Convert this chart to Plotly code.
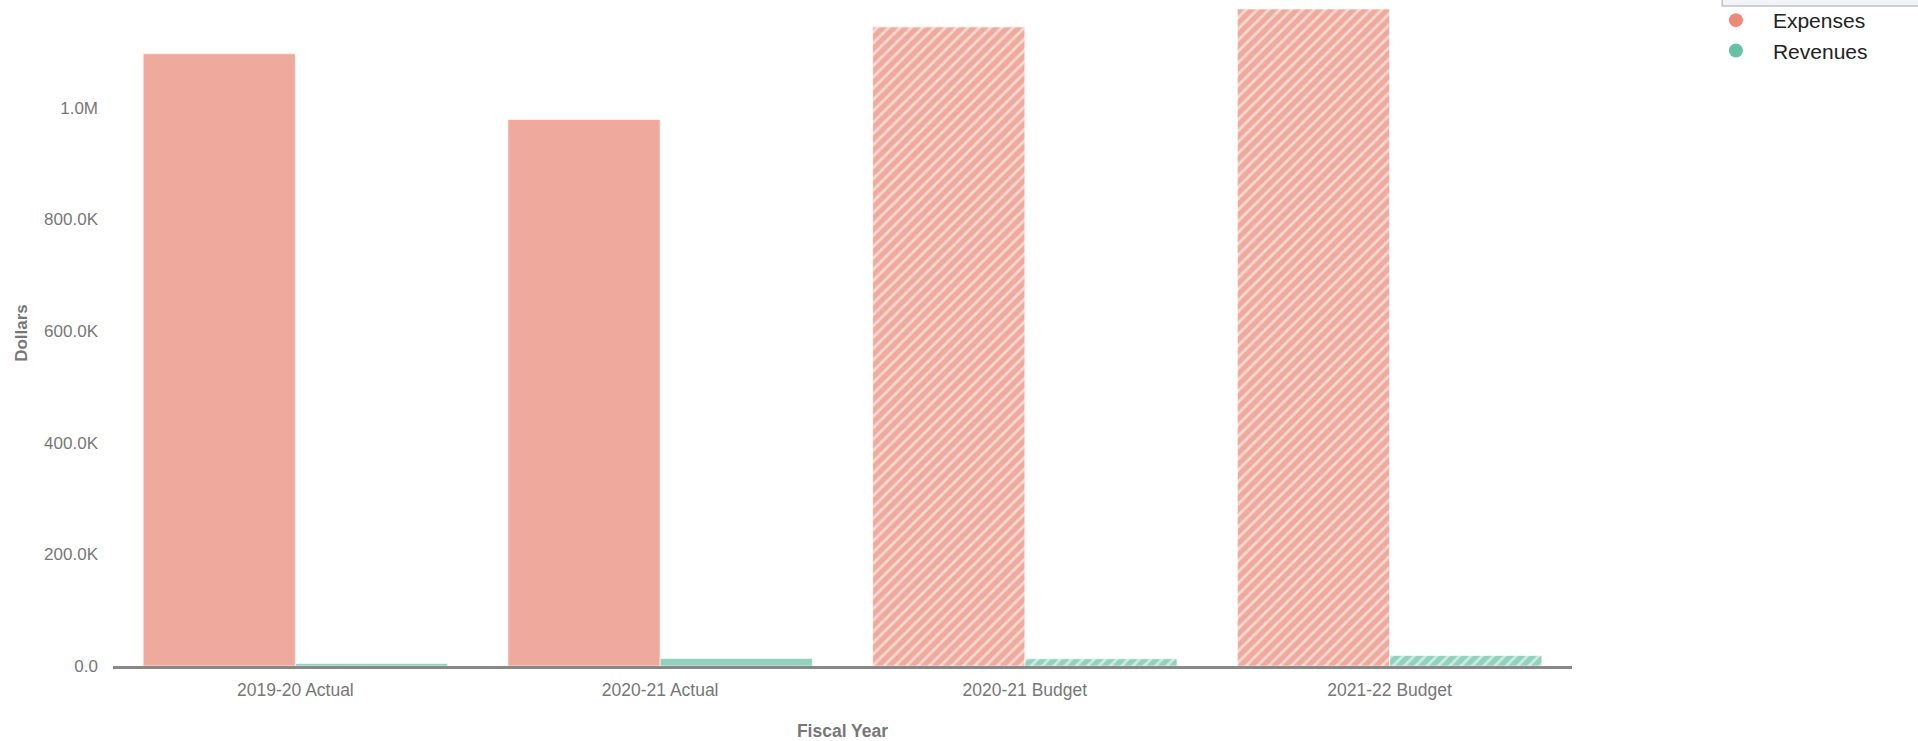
import plotly.graph_objects as go

categories = ["2019-20 Actual", "2020-21 Actual", "2020-21 Budget", "2021-22 Budget"]
expenses = [1097000, 979000, 1145000, 1177000]
revenues = [4500, 13500, 13000, 19000]
patterns = ["", "", "/", "/"]
ytick_vals = [0, 200000, 400000, 600000, 800000, 1000000]
ytick_text = ["0.0", "200.0K", "400.0K", "600.0K", "800.0K", "1.0M"]

EXP = "#EB8A78"
REV = "#66C2A5"
GRAY = "#777777"
FONT = "Liberation Sans, Arial, Helvetica, sans-serif"

fig = go.Figure()
for name, vals, col in [("Expenses", expenses, EXP), ("Revenues", revenues, REV)]:
    fig.add_trace(go.Bar(
        x=categories, y=vals, name=name, showlegend=False, opacity=0.72,
        marker=dict(color=col, line=dict(color="rgba(255,255,255,0.6)", width=1.2),
                    pattern=dict(shape=patterns, fgcolor="white", fgopacity=0.55,
                                 size=8, solidity=0.35)),
        hoverinfo="x+y+name",
    ))
for i, (name, col) in enumerate([("Expenses", EXP), ("Revenues", REV)]):
    fig.add_trace(go.Scatter(
        x=[None], y=[None], mode="markers", name=name, legendgroup=f"g{i}",
        marker=dict(color=col, size=14, symbol="circle"),
    ))

fig.update_layout(
    width=1918, height=741,
    margin=dict(l=113, r=346, t=0, b=75, autoexpand=False),
    paper_bgcolor="white", plot_bgcolor="white",
    font=dict(family=FONT, color=GRAY, size=17),
    barmode="group", bargap=0.165, bargroupgap=0,
    legend=dict(x=1.087, y=1.0, xanchor="left", yanchor="top",
                font=dict(size=21, color="#222222", family=FONT),
                bgcolor="rgba(0,0,0,0)", itemwidth=64, tracegroupgap=0),
    xaxis=dict(showline=True, linecolor="#888888", linewidth=2.5, showgrid=False,
               ticks="", ticklabelstandoff=6, tickfont=dict(size=17.5, color=GRAY),
               title=dict(text="<b>Fiscal Year</b>", standoff=28,
                          font=dict(size=17.5, color=GRAY))),
    yaxis=dict(range=[0, 1193000], showline=False, showgrid=False, zeroline=False,
               tickvals=ytick_vals, ticktext=ytick_text, ticks="",
               ticklabelstandoff=14, tickfont=dict(size=17, color=GRAY),
               title=dict(text="<b>Dollars</b>", standoff=12,
                          font=dict(size=17, color=GRAY))),
    shapes=[dict(type="rect", xref="paper", yref="paper",
                 x0=1.103, x1=1.25, y0=0.991, y1=1.05,
                 line=dict(color="#bfc3c8", width=1.5), fillcolor="#f2f4f7", layer="above")],
)

fig.write_html("out.html")
